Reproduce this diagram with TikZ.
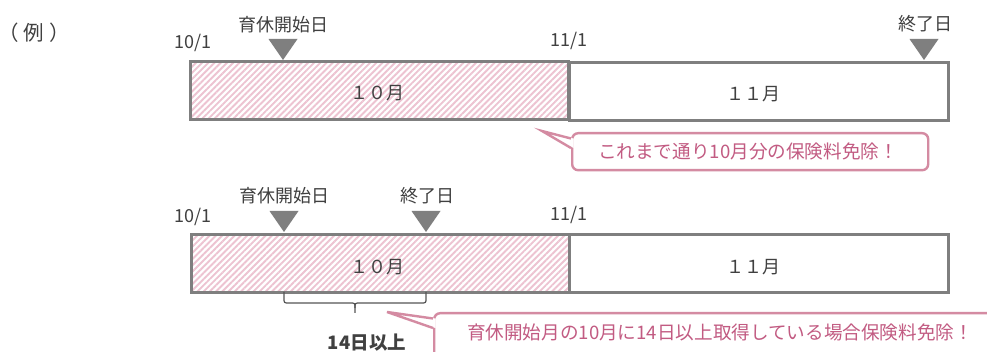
\documentclass[tikz,border=0pt]{standalone}
\usepackage{fontspec}
\setmainfont{Noto Sans CJK JP}
\usetikzlibrary{patterns.meta,calc}
\definecolor{txt}{HTML}{404040}
\definecolor{barline}{HTML}{7F7F7F}
\definecolor{stripe}{HTML}{EDC3D1}
\definecolor{calloutline}{HTML}{D48BA2}
\definecolor{callouttxt}{HTML}{C25B82}
\definecolor{bracecol}{HTML}{555555}
\tikzset{
  lbl/.style={text=txt, font=\fontsize{18}{20}\selectfont, inner sep=0pt},
  barbox/.style={draw=barline, line width=3pt, minimum height=58pt, inner sep=0pt, anchor=north west},
  hatched/.style={pattern={Lines[angle=45,distance=4.4pt,line width=1.9pt]}, pattern color=stripe},
  marker/.style={fill=barline},
  calloutbox/.style={draw=calloutline, line width=2.4pt, rounded corners=6pt, fill=white, anchor=north west, inner sep=0pt},
  callouttext/.style={text=callouttxt, font=\fontsize{18.6}{20}\selectfont, inner sep=0pt},
  pointer/.style={draw=calloutline, line width=2.4pt, line join=miter},
  bracestyle/.style={draw=bracecol, line width=1.2pt}
}
\begin{document}
\begin{tikzpicture}[x=1pt,y=-1pt]
\fill[white] (0,0) rectangle (987,352);
\useasboundingbox (0,0) rectangle (987,352);
\clip (0,0) rectangle (987,352);

% example label
\node[lbl, font=\fontsize{20.5}{22}\selectfont] (rei) at (34,33) {（\hspace{5pt}例\hspace{5pt}）};

% ---------- top timeline ----------
\node[barbox, hatched, minimum width=378pt] (oct1) at (190,61) {};
\node[barbox, minimum width=379pt] (nov1) at (568,61) {};
\node[lbl] (oct1t) at ($(oct1.center)+(-2,2.5)$) {１０月};
\node[lbl] (nov1t) at ($(nov1.center)+(-6,2.5)$) {１１月};

\node[lbl] (d101) at (193,43) {10/1};
\node[lbl] (d111) at (569,41) {11/1};
\node[lbl] (start1) at (283,25) {育休開始日};
\node[lbl] (end1) at (925,24) {終了日};
\coordinate (m1) at (283,60);
\coordinate (m2) at (924,60);
\fill[marker] (m1) -- ++(-14.5,-21) -- ++(29,0) -- cycle;
\fill[marker] (m2) -- ++(-14.5,-21) -- ++(29,0) -- cycle;

% callout 1
\node[calloutbox, minimum width=356pt, minimum height=37pt] (c1) at (571,132) {};
\node[callouttext] (c1t) at (748,151) {これまで通り10月分の保険料免除！};
\coordinate (t1) at (542,131);
\coordinate (a1) at ($(c1.north west)+(0,6.5)$);
\coordinate (b1) at ($(c1.north west)+(0,16)$);
\fill[white] ($(a1)+(2.5,0)$) -- (t1) -- ($(b1)+(2.5,0)$) -- cycle;
\draw[pointer] (a1) -- (t1) -- (b1);

% ---------- bottom timeline ----------
\node[barbox, hatched, minimum width=378pt] (oct2) at (190,233) {};
\node[barbox, minimum width=379pt] (nov2) at (568,233) {};
\node[lbl] (oct2t) at ($(oct2.center)+(-3,4)$) {１０月};
\node[lbl] (nov2t) at ($(nov2.center)+(-6,3.5)$) {１１月};

\node[lbl] (d102) at (193,217) {10/1};
\node[lbl] (d112) at (569,215) {11/1};
\node[lbl] (start2) at (284,196) {育休開始日};
\node[lbl] (end2) at (427,196) {終了日};
\coordinate (m3) at (284,232);
\coordinate (m4) at (426,232);
\fill[marker] (m3) -- ++(-14.5,-21) -- ++(29,0) -- cycle;
\fill[marker] (m4) -- ++(-14.5,-21) -- ++(29,0) -- cycle;

% brace
\coordinate (bl) at (284,292);
\coordinate (br) at (426,292);
\coordinate (bt) at (355,313);
\draw[bracestyle] (bl) -- ++(0,6) .. controls ++(0,5) and ++(-5,0) .. (289,303) -- (350,303)
  .. controls (355,303) and (355,303) .. (355,308) -- (bt);
\draw[bracestyle] (br) -- ++(0,6) .. controls ++(0,5) and ++(5,0) .. (421,303) -- (360,303)
  .. controls (355,303) and (355,303) .. (355,308);
\node[lbl, font=\fontsize{18.5}{20}\selectfont\bfseries] (days) at (367,343) {14日以上};

% callout 2
\node[calloutbox, minimum width=574pt, minimum height=50pt] (c2) at (433,312) {};
\node[callouttext] (c2t) at (720,332) {育休開始月の10月に14日以上取得している場合保険料免除！};
\coordinate (t2) at (387,312);
\coordinate (a2) at ($(c2.north west)+(0,6.5)$);
\coordinate (b2) at ($(c2.north west)+(0,16)$);
\fill[white] ($(a2)+(2.5,0)$) -- (t2) -- ($(b2)+(2.5,0)$) -- cycle;
\draw[pointer] (a2) -- (t2) -- (b2);
\end{tikzpicture}
\end{document}
